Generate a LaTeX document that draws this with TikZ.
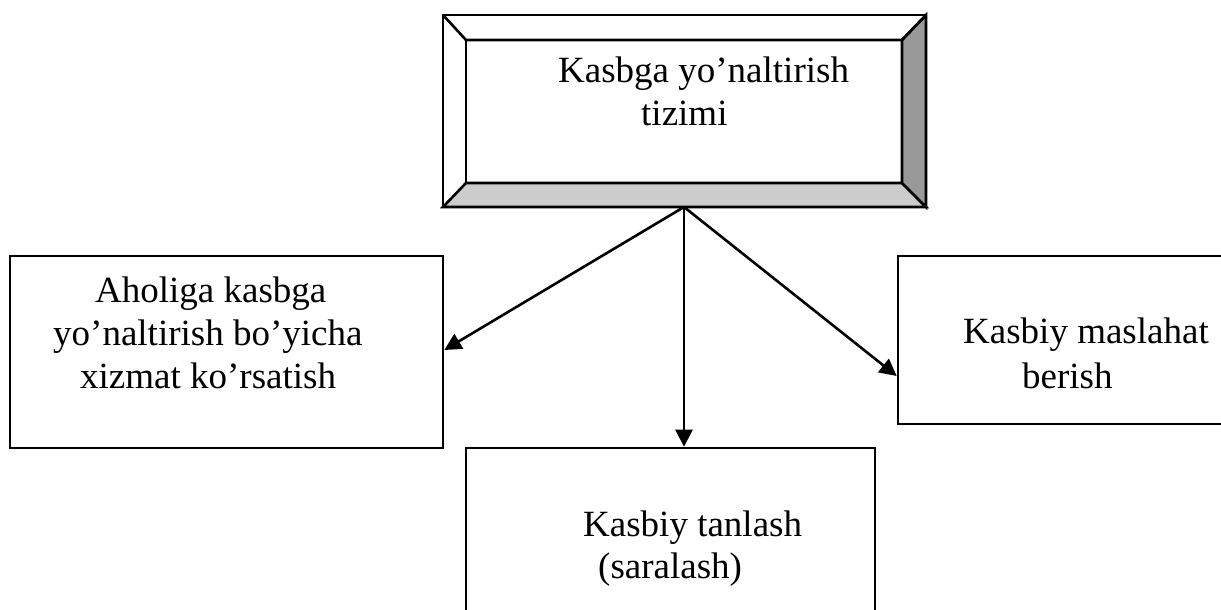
\documentclass[tikz,border=0pt]{standalone}
\usepackage{fontspec}
\setmainfont{Liberation Serif}
\usetikzlibrary{arrows.meta}
\tikzset{
  box/.style={draw=black, line width=2.6pt, inner sep=0pt, fill=white},
  lbl/.style={anchor=base west, inner sep=0pt, font=\fontsize{37}{43}\selectfont},
  conn/.style={line width=2.6pt, -{Triangle[length=17pt,width=17pt]}},
  face/.style={draw=black, line width=2.6pt, line join=miter},
}
\definecolor{darkface}{HTML}{999999}
\definecolor{lightface}{HTML}{CCCCCC}
\begin{document}
\begin{tikzpicture}[x=1pt,y=-1pt]
\clip (0,0) rectangle (1221,610);
% top bevelled box
\node[box, minimum width=483pt, minimum height=192pt] (top) at (684.5,111) {};
\coordinate (toi) at (684,207);
\fill[white] (443,15) rectangle (926,207);
\filldraw[face, fill=lightface] (443,207) -- (466,183) -- (902,183) -- (926,207) -- cycle;
\filldraw[face, fill=darkface] (926,15) -- (902,40) -- (902,183) -- (926,207) -- cycle;
\draw[face] (443,15) -- (466,40) -- (902,40) -- (926,15);
\draw[face] (466,40) -- (466,183);
\draw[face] (443,15) rectangle (926,207);
\node[lbl] (t1) at (558,82) {Kasbga yo’naltirish};
\node[lbl] (t2) at (641,125) {tizimi};
% left box
\node[box, minimum width=433pt, minimum height=192pt] (left) at (226.5,352) {};
\node[lbl] (l1) at (95,302) {Aholiga kasbga};
\node[lbl] (l2) at (53,345) {yo’naltirish bo’yicha};
\node[lbl] (l3) at (80,388) {xizmat ko’rsatish};
% right box (extends past the edge)
\node[box, minimum width=340pt, minimum height=168pt] (right) at (1068,340) {};
\node[lbl] (r1) at (963,343) {Kasbiy maslahat};
\node[lbl] (r2) at (1022,388) {berish};
% bottom box (cut by the edge)
\node[box, minimum width=409pt, minimum height=180pt] (bottom) at (670.5,538) {};
\node[lbl] (b1) at (583,536) {Kasbiy tanlash};
\node[lbl] (b2) at (598,578) {(saralash)};
% connectors
\draw[conn] (toi) -- (left.east |- 0,350);
\draw[conn] (toi) -- (bottom.north -| toi);
\draw[conn] (toi) -- (right.west |- 0,376);
\end{tikzpicture}
\end{document}
